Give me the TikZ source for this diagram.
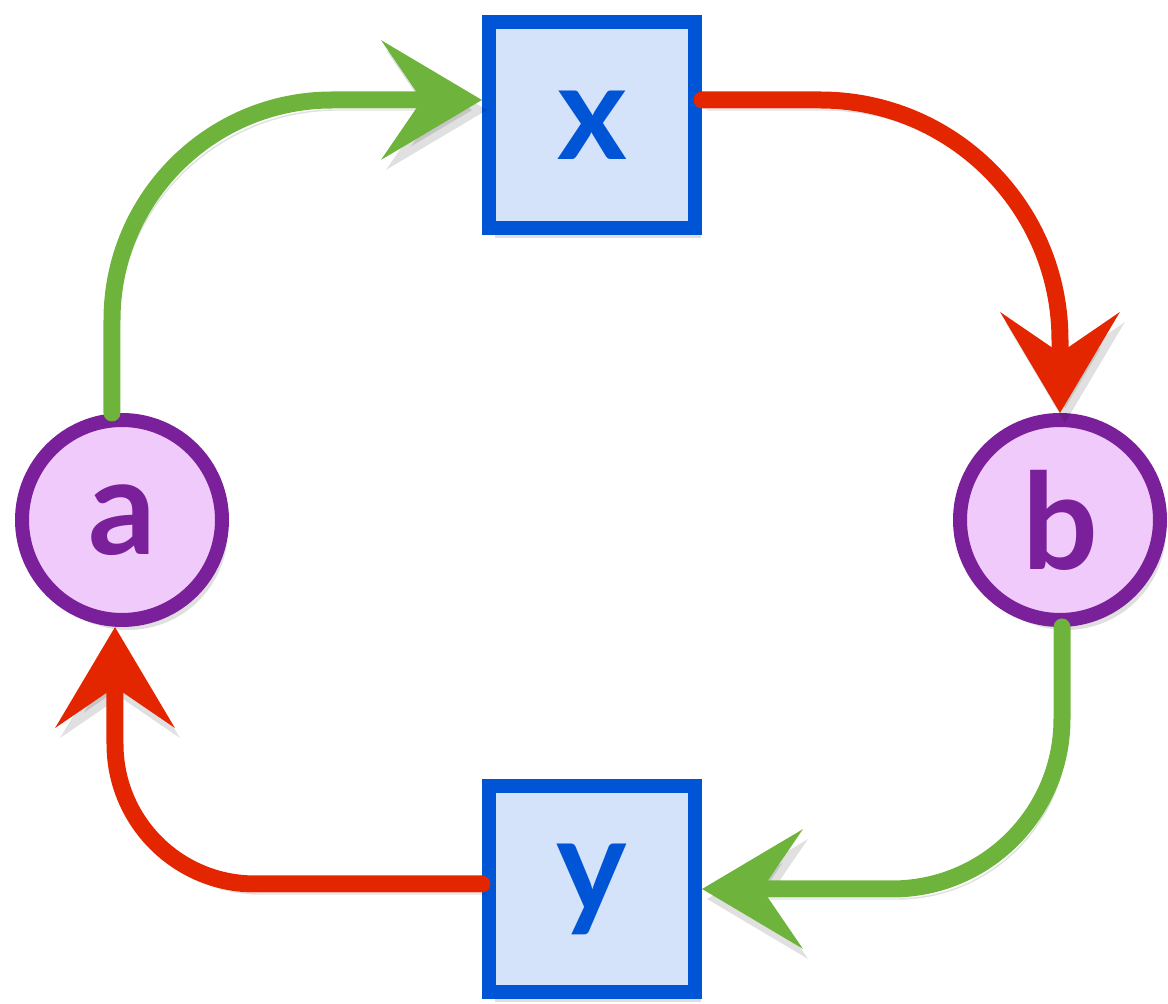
\documentclass[tikz,border=0pt]{standalone}
\usepackage{fontspec}
\setmainfont{Lato}
\usepackage{tikz}
\usepackage{xcolor}
\usetikzlibrary{arrows.meta,positioning,shadows,decorations.pathmorphing}
\definecolor{loopGreen}{RGB}{110,180,60}
\definecolor{loopRed}{RGB}{228,38,0}
\definecolor{boxBlue}{RGB}{0,84,214}
\definecolor{boxFill}{RGB}{212,226,250}
\definecolor{ballPurple}{RGB}{122,32,154}
\definecolor{ballFill}{RGB}{240,202,250}

\tikzset{
  ball/.style={circle, draw=ballPurple, fill=ballFill, line width=0.14cm,
    minimum size=2.0cm, text=ballPurple,
    font=\fontsize{38}{40}\selectfont\bfseries,
    drop shadow={opacity=0.25, shadow xshift=0.06cm, shadow yshift=-0.1cm}},
  box/.style={rectangle, draw=boxBlue, fill=boxFill, line width=0.14cm,
    minimum size=2.06cm, text=boxBlue,
    font=\fontsize{38}{40}\selectfont\bfseries,
    drop shadow={opacity=0.25, shadow xshift=0.06cm, shadow yshift=-0.1cm}},
  flow/.style={line width=0.17cm, line cap=round,
    -{Stealth[length=1cm, width=1.18cm, inset=0.4cm]},
    preaction={draw=black, opacity=0.12, transform canvas={xshift=0.05cm, yshift=-0.1cm}}},
  goodflow/.style={flow, draw=loopGreen},
  badflow/.style={flow, draw=loopRed}
}

\begin{document}
\begin{tikzpicture}
  \useasboundingbox (0,0) rectangle (11.68,10.04);

  % the four stations
  \node[ball] (a) at (1.22,4.84) {a};
  \node[ball] (b) at (10.60,4.84) {b};
  \node[box] (x) at (5.92,8.79) {x};
  \node[box] (y) at (5.92,1.15) {y};

  % loop arrows
  \draw[goodflow, rounded corners=2.2cm] ([xshift=-0.1cm]a.north) |- ([yshift=0.25cm]x.west);
  \draw[badflow, rounded corners=2.4cm] ([yshift=0.25cm]x.east) -| (b.north);
  \draw[goodflow, rounded corners=1.7cm] ([xshift=0.02cm]b.south) |- (y.east);
  \draw[badflow, rounded corners=1.4cm] ([yshift=0.05cm]y.west) -| ([xshift=-0.07cm]a.south);
\end{tikzpicture}
\end{document}
